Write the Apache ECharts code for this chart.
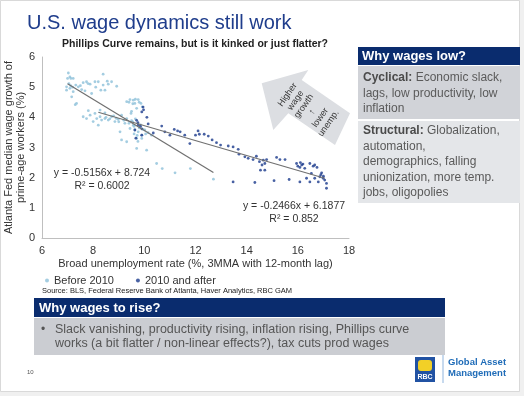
<!DOCTYPE html>
<html>
<head>
<meta charset="utf-8">
<script src="https://cdn.jsdelivr.net/npm/echarts@6/dist/echarts.min.js"></script>
<style>
  html, body { margin: 0; padding: 0; background: #f0f0f0; }
  #chart { width: 524px; height: 396px; }
</style>
</head>
<body>
<div id="chart"></div>
<script>
// scatter points: [unemployment rate, wage growth]
const before2010 = [
  [7.03, 5.47], [7.09, 5.34], [7.0, 5.29], [7.13, 5.29], [7.22, 5.29], [6.96, 5.01], [6.96, 4.9],
  [7.09, 4.96], [7.22, 4.85], [7.16, 4.68], [7.32, 5.07], [7.42, 5.01], [7.55, 4.92], [7.68, 4.88],
  [7.61, 5.15], [7.74, 5.18], [7.88, 5.1], [7.94, 4.79], [8.07, 5.18], [8.2, 5.18], [8.39, 5.43],
  [8.39, 5.07], [8.46, 4.9], [8.59, 5.1], [8.72, 5.18], [8.92, 5.03], [7.35, 4.46], [7.88, 4.07],
  [7.61, 4.02], [7.81, 4.22], [8.07, 4.13], [8.14, 3.96], [8.27, 4.02], [8.33, 3.91], [8.46, 3.96],
  [8.59, 3.91], [8.72, 4.02], [8.85, 3.86], [8.98, 3.93], [8.27, 4.24], [8.46, 4.15], [9.31, 4.52],
  [9.44, 4.59], [9.57, 4.57], [9.63, 4.46], [9.76, 4.59], [9.87, 4.46], [9.92, 4.35], [9.7, 4.3],
  [9.48, 4.13], [9.31, 3.96], [9.5, 3.89], [9.57, 3.74], [9.63, 3.58], [9.44, 3.63], [9.76, 3.52],
  [9.9, 3.41], [10.02, 3.58], [10.15, 3.49], [10.28, 3.41], [9.05, 3.52], [9.11, 3.25], [9.31, 3.19],
  [9.7, 3.3], [9.7, 2.97], [10.09, 2.91], [10.48, 2.47], [7.74, 3.96], [8.0, 3.86], [8.2, 3.74],
  [9.11, 4.07], [9.24, 3.8], [10.7, 2.3], [11.2, 2.16], [11.8, 2.3], [12.7, 1.95],
  [8.5, 4.0], [8.65, 3.95], [8.8, 4.05], [8.9, 3.97], [9.0, 3.85], [9.2, 3.9], [9.4, 3.8],
  [9.55, 3.85], [9.6, 3.7], [9.65, 3.95], [9.8, 3.65], [9.85, 3.75], [9.95, 3.6], [10.05, 3.45],
  [9.72, 3.4], [9.6, 3.45], [9.5, 4.2], [9.55, 4.45], [9.65, 4.6], [9.8, 4.5], [9.4, 4.5],
  [7.05, 5.12], [7.12, 5.05], [7.2, 5.0], [7.5, 5.05], [7.8, 5.12], [8.1, 5.0], [8.3, 4.9],
  [8.55, 5.2], [7.3, 4.42], [9.75, 3.2], [9.9, 3.3]
];
const after2010 = [
  [9.95, 4.34], [9.97, 4.25], [10.1, 4.0], [9.9, 4.18], [9.7, 3.9], [9.76, 3.74], [9.63, 3.58],
  [9.67, 3.31], [9.9, 3.41], [9.85, 3.7], [9.9, 3.62], [9.75, 3.82], [10.15, 3.78], [10.35, 3.48],
  [10.68, 3.71], [10.8, 3.52], [11.0, 3.41], [11.17, 3.6], [11.3, 3.55], [11.4, 3.52], [11.58, 3.41],
  [11.78, 3.13], [12.0, 3.41], [12.1, 3.55], [12.15, 3.44], [12.34, 3.44], [12.5, 3.38], [12.65, 3.25],
  [12.82, 3.16], [12.98, 3.08], [13.28, 3.05], [13.47, 3.02], [13.67, 2.94], [13.7, 2.78], [13.47, 1.86],
  [13.93, 2.69], [14.06, 2.64], [14.25, 2.6], [14.38, 2.71], [14.5, 2.53], [14.6, 2.42], [14.65, 2.58],
  [14.78, 2.6], [14.71, 2.47], [14.54, 2.25], [14.71, 2.25], [15.17, 2.67], [15.3, 2.6], [15.5, 2.6],
  [15.95, 2.47], [16.0, 2.38], [16.08, 2.34], [16.15, 2.42], [16.27, 2.31], [16.47, 2.47], [16.6, 2.38],
  [16.66, 2.42], [16.75, 2.34], [16.53, 2.14], [16.66, 1.98], [16.86, 2.03], [16.93, 2.16], [16.99, 1.98],
  [17.05, 1.92], [17.12, 1.81], [16.8, 1.86], [17.12, 1.65], [16.47, 1.86], [16.34, 1.98], [16.08, 1.86],
  [15.66, 1.94], [15.07, 1.9], [14.32, 1.84], [16.1, 2.5], [16.2, 2.45], [16.9, 2.1], [17.0, 2.05]
];
// trendline end points (Excel linear fits)
const trendBefore = [[7.0, 5.11], [12.7, 2.17]];
const trendAfter = [[8.2, 4.17], [17.05, 1.98]];
const xTicks = [6, 8, 10, 12, 14, 16, 18];
const yTicks = [0, 1, 2, 3, 4, 5, 6];

const FONT = "'Liberation Sans', Arial, sans-serif";
const navy = "#0a2c6e";

const chart = echarts.init(document.getElementById("chart"));

chart.setOption({
  backgroundColor: "#f0f0f0",
  animation: false,
  textStyle: { fontFamily: FONT },
  grid: { left: 42, right: 175, top: 57, bottom: 158, containLabel: false, outerBoundsMode: "none" },
  legend: {
    left: 40,
    top: 270,
    icon: "circle",
    itemWidth: 4,
    itemHeight: 4,
    itemGap: 22,
    textStyle: { fontSize: 11, color: "#333", fontFamily: FONT },
    data: ["Before 2010", "2010 and after"],
  },
  xAxis: {
    type: "value",
    min: xTicks[0],
    max: xTicks[xTicks.length - 1],
    interval: 2,
    name: "Broad unemployment rate (%, 3MMA with 12-month lag)",
    nameLocation: "middle",
    nameGap: 20,
    nameMoveOverlap: false,
    nameTextStyle: { fontSize: 11, color: "#333" },
    axisLine: { lineStyle: { color: "#bfbfbf" } },
    axisTick: { show: false },
    splitLine: { show: false },
    axisLabel: { fontSize: 11, color: "#333", margin: 7 },
  },
  yAxis: {
    type: "value",
    min: yTicks[0],
    max: yTicks[yTicks.length - 1],
    interval: 1,
    name: "Atlanta Fed median wage growth of\nprime-age workers (%)",
    nameLocation: "middle",
    nameGap: 15,
    nameMoveOverlap: false,
    nameTextStyle: { fontSize: 11, color: "#333", lineHeight: 12 },
    axisLine: { show: true, lineStyle: { color: "#bfbfbf" } },
    axisTick: { show: false },
    splitLine: { show: false },
    axisLabel: { fontSize: 11, color: "#333", margin: 7 },
  },
  series: [
    {
      name: "Before 2010",
      type: "scatter",
      symbol: "circle",
      symbolSize: 2.8,
      itemStyle: { color: "#8dc0da" },
      data: before2010,
    },
    {
      name: "2010 and after",
      type: "scatter",
      symbol: "circle",
      symbolSize: 2.8,
      itemStyle: { color: "#1a3a8c" },
      data: after2010,
    },
    {
      type: "line",
      data: trendBefore,
      symbol: "none",
      lineStyle: { color: "#707070", width: 1.2 },
      z: 3,
    },
    {
      type: "line",
      data: trendAfter,
      symbol: "none",
      lineStyle: { color: "#707070", width: 1.2 },
      z: 3,
    },
  ],
  graphic: [
    // slide page
    { type: "rect", z: -10, silent: true, shape: { x: 0.5, y: 0.5, width: 519, height: 391 },
      style: { fill: "#fff", stroke: "#d9d9d9" } },
    { type: "text", x: 27, y: 23, style: { text: "U.S. wage dynamics still work", font: "20px " + FONT,
      fill: "#1f3d8c", verticalAlign: "middle" } },
    { type: "text", x: 195, y: 44, style: { text: "Phillips Curve remains, but is it kinked or just flatter?",
      font: "bold 10.5px " + FONT, fill: "#222", textAlign: "center", verticalAlign: "middle" } },

    // arrow
    { type: "polygon", z: -1, silent: true,
      shape: { points: [[261.7, 83.3], [308.3, 70], [301.7, 80], [350, 113.3], [335, 145], [288.3, 113.3], [273.3, 130]] },
      style: { fill: "#dcdee2" } },
    { type: "text", x: 308, y: 109, rotation: 55 * Math.PI / 180,
      style: { text: "Higher\nwage\ngrowth\n↑\nlower\nunemp.", font: "9px " + FONT, lineHeight: 10,
        fill: "#333", textAlign: "center", verticalAlign: "middle" } },

    // regression labels
    { type: "text", x: 102, y: 173, style: { text: "y = -0.5156x + 8.724", font: "10.5px " + FONT,
      fill: "#333", textAlign: "center", verticalAlign: "middle" } },
    { type: "text", x: 102, y: 186, style: { text: "R² = 0.6002", font: "10.5px " + FONT,
      fill: "#333", textAlign: "center", verticalAlign: "middle" } },
    { type: "text", x: 294, y: 206, style: { text: "y = -0.2466x + 6.1877", font: "10.5px " + FONT,
      fill: "#333", textAlign: "center", verticalAlign: "middle" } },
    { type: "text", x: 294, y: 219, style: { text: "R² = 0.852", font: "10.5px " + FONT,
      fill: "#333", textAlign: "center", verticalAlign: "middle" } },

    // source
    { type: "text", x: 42, y: 291, style: { text: "Source: BLS, Federal Reserve Bank of Atlanta, Haver Analytics, RBC GAM",
      font: "7.5px " + FONT, fill: "#222", verticalAlign: "middle" } },

    // right box
    { type: "rect", silent: true, shape: { x: 358, y: 47, width: 162, height: 18 }, style: { fill: navy } },
    { type: "text", x: 362, y: 56, style: { text: "Why wages low?", font: "bold 13px " + FONT,
      fill: "#fff", verticalAlign: "middle" } },
    { type: "rect", silent: true, shape: { x: 358, y: 66, width: 162, height: 53 }, style: { fill: "#d1d3d8" } },
    { type: "text", x: 363, y: 70, style: {
      text: "{b|Cyclical:} Economic slack,\nlags, low productivity, low\ninflation",
      font: "12px " + FONT, fill: "#5a5a5a", lineHeight: 15.5,
      rich: { b: { fontWeight: "bold", fontSize: 12, fontFamily: FONT, fill: "#4a4a4a", lineHeight: 15.5 } } } },
    { type: "rect", silent: true, shape: { x: 358, y: 121, width: 162, height: 82 }, style: { fill: "#e4e6e9" } },
    { type: "text", x: 363, y: 123, style: {
      text: "{b|Structural:} Globalization,\nautomation,\ndemographics, falling\nunionization, more temp.\njobs, oligopolies",
      font: "12px " + FONT, fill: "#5a5a5a", lineHeight: 15.5,
      rich: { b: { fontWeight: "bold", fontSize: 12, fontFamily: FONT, fill: "#4a4a4a", lineHeight: 15.5 } } } },

    // bottom box
    { type: "rect", silent: true, shape: { x: 34, y: 298, width: 411, height: 19 }, style: { fill: navy } },
    { type: "text", x: 39, y: 308, style: { text: "Why wages to rise?", font: "bold 13px " + FONT,
      fill: "#fff", verticalAlign: "middle" } },
    { type: "rect", silent: true, shape: { x: 34, y: 318, width: 411, height: 37 }, style: { fill: "#cbcdd2" } },
    { type: "text", x: 41, y: 330, style: { text: "•", font: "12px " + FONT, fill: "#555", verticalAlign: "middle" } },
    { type: "text", x: 55, y: 323, style: {
      text: "Slack vanishing, productivity rising, inflation rising, Phillips curve\nworks (a bit flatter / non-linear effects?), tax cuts prod wages",
      font: "12.5px " + FONT, fill: "#555", lineHeight: 14 } },

    // footer
    { type: "text", x: 27, y: 372, style: { text: "10", font: "6px " + FONT, fill: "#555", verticalAlign: "middle" } },
    { type: "rect", silent: true, shape: { x: 415, y: 357, width: 20, height: 25 }, style: { fill: "#2152a3" } },
    { type: "rect", silent: true, shape: { x: 418, y: 360, width: 14, height: 11, r: 3 }, style: { fill: "#f2d027" } },
    { type: "text", x: 425, y: 377, style: { text: "RBC", font: "bold 7px " + FONT, fill: "#fff",
      textAlign: "center", verticalAlign: "middle" } },
    { type: "line", silent: true, shape: { x1: 443, y1: 355, x2: 443, y2: 383 }, style: { stroke: "#8fb4dd", lineWidth: 1 } },
    { type: "text", x: 448, y: 362, style: { text: "Global Asset", font: "bold 9.5px " + FONT, fill: "#1f6cb8",
      verticalAlign: "middle" } },
    { type: "text", x: 448, y: 373, style: { text: "Management", font: "bold 9.5px " + FONT, fill: "#1f6cb8",
      verticalAlign: "middle" } },
  ],
});
</script>
</body>
</html>
